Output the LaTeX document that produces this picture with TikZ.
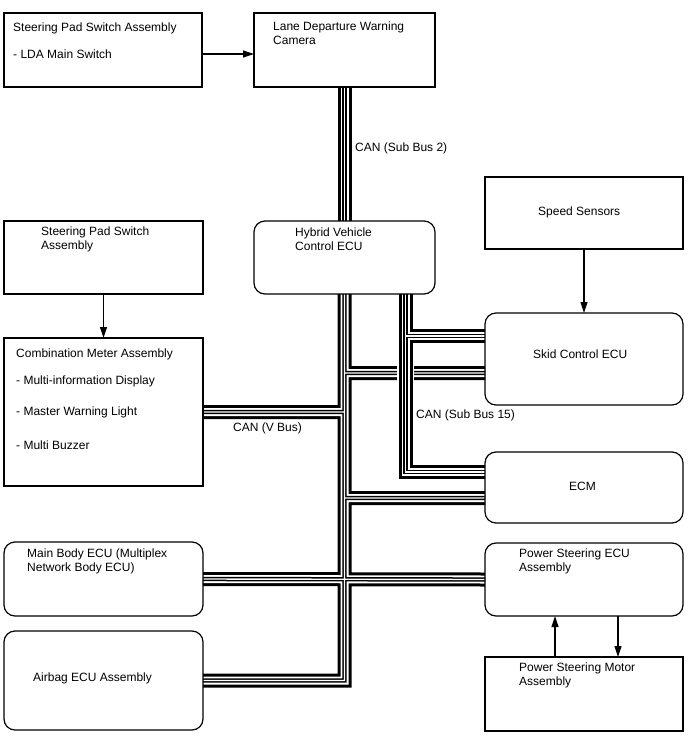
\documentclass[tikz,border=0pt]{standalone}
\usepackage{fontspec}
\setmainfont{Liberation Sans}
\usetikzlibrary{arrows.meta,positioning,calc,backgrounds}
\tikzset{
  unit/.style={rectangle, draw, line width=1.2pt, anchor=north west, inner sep=0pt, outer sep=0pt},
  ecu/.style={unit, rounded corners=11pt},
  txt/.style={anchor=north west, inner sep=0pt, align=left, font=\fontsize{12}{14}\selectfont},
  arr/.style={-{Triangle[length=11pt,width=7pt]}, line width=1.2pt},
  canbus/.style={line width=14pt,
                 postaction={draw=white, line width=8pt},
                 postaction={draw=black, line width=4.4pt},
                 postaction={draw=white, line width=1.4pt}},
  hop/.style={preaction={draw=white, line width=17pt}},
}
\begin{document}
\begin{tikzpicture}[x=1pt, y=-1pt, line join=miter]
  \useasboundingbox (0,0) rectangle (688,755);
  % left column
  \node[unit, minimum width=198pt, minimum height=74pt] (padA) at (4,13) {};
  \node[unit, minimum width=199pt, minimum height=73pt] (padB) at (4,221) {};
  \node[unit, minimum width=199pt, minimum height=148pt] (meter) at (4,338) {};
  \node[ecu, minimum width=199pt, minimum height=74pt] (mbody) at (4,542) {};
  \node[ecu, minimum width=199pt, minimum height=99pt] (abag) at (4,631) {};
  % middle
  \node[unit, minimum width=181pt, minimum height=74pt] (cam) at (254,13) {};
  \node[ecu, minimum width=181pt, minimum height=73pt] (hv) at (254,221) {};
  % right column
  \node[unit, minimum width=198pt, minimum height=72pt] (speed) at (485,177) {};
  \node[ecu, minimum width=198pt, minimum height=92pt] (skid) at (485,313) {};
  \node[ecu, minimum width=198pt, minimum height=71pt] (ecm) at (485,452) {};
  \node[ecu, minimum width=198pt, minimum height=73pt] (pseu) at (485,543) {};
  \node[unit, minimum width=198pt, minimum height=74pt] (psmot) at (485,657) {};

  % texts
  \node[txt] (t-padA) at (13,23) {Steering Pad Switch Assembly\\[13pt]- LDA Main Switch};
  \node[txt] (t-cam) at (273,22) {Lane Departure Warning\\Camera};
  \node[txt] (t-padB) at (41,227) {Steering Pad Switch\\Assembly};
  \node[txt] (t-hv) at (295,228) {Hybrid Vehicle\\Control ECU};
  \node[txt] (t-meter) at (16,349) {Combination Meter Assembly\\[13pt]- Multi-information Display\\[17pt]- Master Warning Light\\[20pt]- Multi Buzzer};
  \node[txt] (t-mbody) at (27,549) {Main Body ECU (Multiplex\\Network Body ECU)};
  \node[txt] (t-abag) at (33,673) {Airbag ECU Assembly};
  \node[txt] (t-speed) at (538,207) {Speed Sensors};
  \node[txt] (t-skid) at (533,350) {Skid Control ECU};
  \node[txt] (t-ecm) at (569,482) {ECM};
  \node[txt] (t-pseu) at (519,549) {Power Steering ECU\\Assembly};
  \node[txt] (t-psmot) at (519,663) {Power Steering Motor\\Assembly};
  \node[txt] (l-sub2) at (355,143) {CAN (Sub Bus 2)};
  \node[txt] (l-sub15) at (416,410) {CAN (Sub Bus 15)};
  \node[txt] (l-vbus) at (233,423) {CAN (V Bus)};

  % plain signal lines
  \draw[arr] ($(padA.east)+(0,4)$) -- ($(cam.west)+(0,4)$);
  \draw[arr] (padB.south) -- (meter.north);
  \draw[arr] (speed.south) -- (skid.north);
  \draw[arr] ($(psmot.north west)+(70,0)$) -- ($(pseu.south west)+(70,0)$);
  \draw[arr] ($(pseu.south west)+(133,0)$) -- ($(psmot.north west)+(133,0)$);

  % CAN buses
  \begin{scope}[on background layer]
    \draw[canbus] (cam.south) -- (hv.north);
    \draw[canbus] (hv.south) -- (hv.south |- abag.east) -- (abag.east)
      (hv.south |- meter.east) -- (meter.east)
      (mbody.east) -- (pseu.west)
      ($(hv.south |- skid.north west)+(0,60)$) -- ($(skid.north west)+(0,60)$)
      ($(hv.south |- ecm.north west)+(0,46)$) -- ($(ecm.north west)+(0,46)$);
    \draw[canbus, hop] ($(hv.south)+(61,0)$) -- ($(hv.south |- ecm.north west)+(61,20)$)
      -- ($(ecm.north west)+(0,20)$)
      ($(hv.south |- skid.north west)+(61,23)$) -- ($(skid.north west)+(0,23)$);
  \end{scope}
\end{tikzpicture}
\end{document}
